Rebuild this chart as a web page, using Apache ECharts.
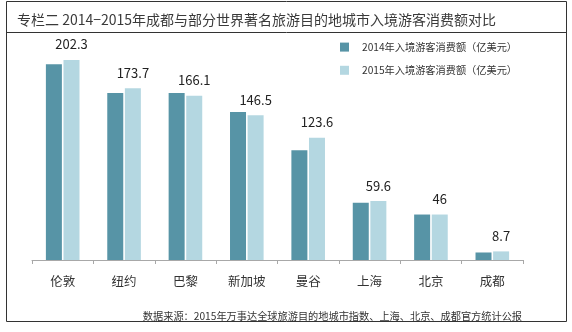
<!DOCTYPE html>
<html>
<head>
<meta charset="utf-8">
<script src="https://cdn.jsdelivr.net/npm/echarts@6/dist/echarts.min.js"></script>
<style>
  html, body { margin: 0; padding: 0; background: #fff; }
  #chart { width: 572px; height: 332px; }
</style>
</head>
<body>
<div id="chart"></div>
<script>
// Cities compared (x axis)
const cities = ['伦敦', '纽约', '巴黎', '新加坡', '曼谷', '上海', '北京', '成都'];
// Inbound visitor spending, 100 million USD
const spend2014 = [198.0, 168.9, 168.9, 149.8, 111.0, 58.0, 46.0, 7.6];
const spend2015 = [202.3, 173.7, 166.1, 146.5, 123.6, 59.6, 46, 8.7];
const seriesNames = ['2014年入境游客消费额（亿美元）', '2015年入境游客消费额（亿美元）'];

const FONT = '"Noto Sans CJK SC", "Noto Sans", sans-serif';
const chart = echarts.init(document.getElementById('chart'), null, { renderer: 'canvas' });

chart.setOption({
  animation: false,
  backgroundColor: '#fff',
  textStyle: { fontFamily: FONT },
  title: [
    {
      text: '专栏二 2014−2015年成都与部分世界著名旅游目的地城市入境游客消费额对比',
      left: 12, top: 8,
      textStyle: { fontFamily: FONT, fontSize: 14, fontWeight: 'normal', color: '#3a3a3a' }
    },
    {
      text: '数据来源：2015年万事达全球旅游目的地城市指数、上海、北京、成都官方统计公报',
      right: 45, top: 306,
      textStyle: { fontFamily: FONT, fontSize: 10.2, fontWeight: 'normal', color: '#333' }
    }
  ],
  legend: {
    orient: 'vertical',
    left: 335, top: 37,
    itemWidth: 9, itemHeight: 9,
    itemGap: 13,
    icon: 'rect',
    textStyle: { fontFamily: FONT, fontSize: 10.2, color: '#333', padding: [0, 0, 0, 8] },
    data: seriesNames
  },
  grid: { left: 32, right: 49, top: 42.5, bottom: 72 },
  xAxis: {
    type: 'category',
    data: cities,
    boundaryGap: true,
    axisLine: { lineStyle: { color: '#a8a8a8', width: 1 } },
    axisTick: { show: true, length: 4, inside: false, lineStyle: { color: '#a8a8a8' } },
    axisLabel: { margin: 15, fontFamily: FONT, fontSize: 12.5, color: '#333' }
  },
  yAxis: {
    type: 'value',
    min: 0, max: 220,
    show: false,
    splitLine: { show: false }
  },
  series: [
    {
      name: seriesNames[0],
      type: 'bar',
      data: spend2014,
      barWidth: 16,
      barGap: '10%',
      itemStyle: { color: '#5794a6' }
    },
    {
      name: seriesNames[1],
      type: 'bar',
      data: spend2015,
      barWidth: 16,
      itemStyle: { color: '#b4d7e1' },
      label: {
        show: true,
        position: 'top',
        distance: 9,
        fontFamily: FONT,
        fontSize: 13,
        color: '#222'
      }
    }
  ],
  graphic: [
    {
      type: 'rect',
      shape: { x: 6.5, y: 1.5, width: 560, height: 320 },
      style: { fill: null, stroke: '#333', lineWidth: 1 },
      silent: true
    },
    {
      type: 'line',
      shape: { x1: 6.5, y1: 32.5, x2: 566.5, y2: 32.5 },
      style: { stroke: '#333', lineWidth: 1 },
      silent: true
    }
  ]
});
</script>
</body>
</html>
